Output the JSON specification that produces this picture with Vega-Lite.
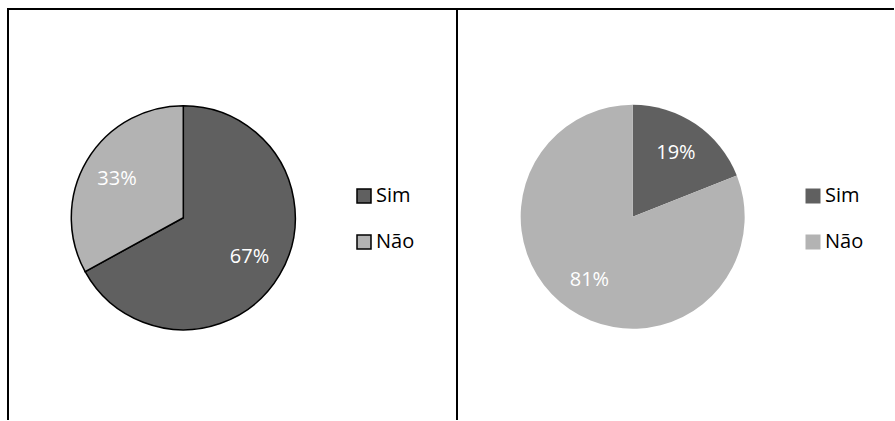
{
  "$schema": "https://vega.github.io/schema/vega-lite/v6.json",
  "padding": {"left": 7, "top": 8, "right": 0, "bottom": 0},
  "background": "white",
  "spacing": 0,
  "bounds": "flush",
  "config": {
    "font": "Open Sans",
    "view": {"stroke": "black", "strokeWidth": 2},
    "legend": {"labelFont": "Open Sans", "labelFontSize": 20, "labelColor": "black"}
  },
  "resolve": {"scale": {"color": "independent", "x": "independent", "y": "independent"}, "legend": {"color": "independent"}},
  "hconcat": [
    {
      "width": 449,
      "height": 411,
      "view": {"stroke": "black", "strokeWidth": 2, "strokeDash": [860, 449]},
      "data": {"values": [
        {"category": "Sim", "value": 0.67},
        {"category": "Não", "value": 0.33}
      ]},
      "encoding": {
        "theta": {"field": "value", "type": "quantitative", "stack": true},
        "order": {"field": "category", "sort": "descending"},
        "x": {"datum": 0.3904, "type": "quantitative", "scale": {"domain": [0, 1]}, "axis": null},
        "y": {"datum": 0.4922, "type": "quantitative", "scale": {"domain": [0, 1]}, "axis": null}
      },
      "layer": [
        {
          "mark": {"type": "arc", "outerRadius": 112, "stroke": "black", "strokeWidth": 1.5},
          "encoding": {
            "color": {
              "field": "category", "type": "nominal",
              "scale": {"domain": ["Sim", "Não"], "range": ["#606060", "#b3b3b3"]},
              "legend": {
                "title": null, "orient": "none", "legendX": 346, "legendY": 177,
                "symbolType": "square", "symbolSize": 196, "symbolStrokeColor": "black", "symbolStrokeWidth": 1.5,
                "labelOffset": 2, "rowPadding": 26
              }
            }
          }
        },
        {
          "mark": {"type": "text", "radius": 77, "fontSize": 20, "fill": "white", "font": "Open Sans"},
          "encoding": {
            "detail": {"field": "category"},
            "text": {"field": "value", "type": "quantitative", "format": ".0%"}
          }
        }
      ]
    },
    {
      "width": 437,
      "height": 411,
      "view": {"stroke": "black", "strokeWidth": 2, "strokeDash": [437, 848]},
      "data": {"values": [
        {"category": "Sim", "value": 0.19},
        {"category": "Não", "value": 0.81}
      ]},
      "encoding": {
        "theta": {"field": "value", "type": "quantitative", "stack": true},
        "order": {"field": "category", "sort": "descending"},
        "x": {"datum": 0.402, "type": "quantitative", "scale": {"domain": [0, 1]}, "axis": null},
        "y": {"datum": 0.4946, "type": "quantitative", "scale": {"domain": [0, 1]}, "axis": null}
      },
      "layer": [
        {
          "mark": {"type": "arc", "outerRadius": 112},
          "encoding": {
            "color": {
              "field": "category", "type": "nominal",
              "scale": {"domain": ["Sim", "Não"], "range": ["#606060", "#b3b3b3"]},
              "legend": {
                "title": null, "orient": "none", "legendX": 346, "legendY": 177,
                "symbolType": "square", "symbolSize": 225, "symbolStrokeWidth": 0,
                "labelOffset": 2, "rowPadding": 26
              }
            }
          }
        },
        {
          "mark": {"type": "text", "radius": 77, "fontSize": 20, "fill": "white", "font": "Open Sans"},
          "encoding": {
            "detail": {"field": "category"},
            "text": {"field": "value", "type": "quantitative", "format": ".0%"}
          }
        }
      ]
    }
  ]
}
